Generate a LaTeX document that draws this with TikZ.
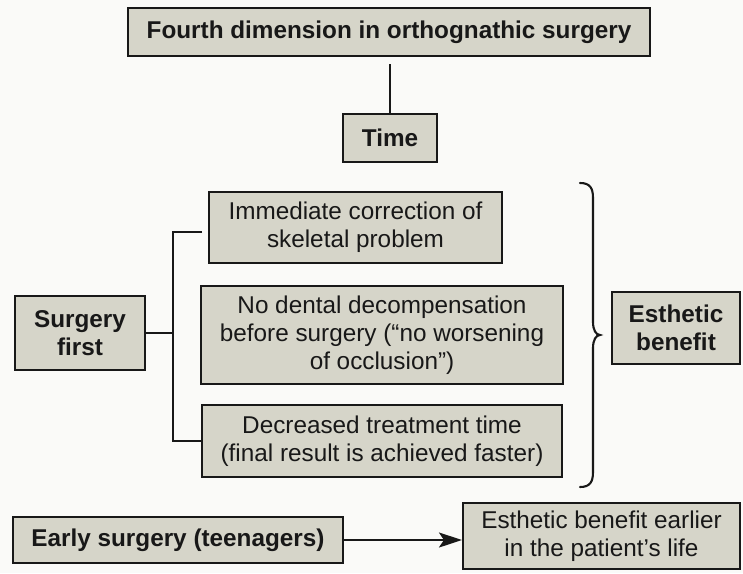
\documentclass[tikz,border=0pt]{standalone}
\usepackage{fontspec}
\setmainfont{Liberation Sans}
\usetikzlibrary{arrows.meta}
\definecolor{boxfill}{RGB}{214,213,201}
\definecolor{ink}{RGB}{24,24,24}
\definecolor{paper}{RGB}{250,250,248}
\begin{document}
\begin{tikzpicture}[x=1pt,y=-1pt,
  box/.style={draw=ink,fill=boxfill,line width=2.1pt,rectangle,inner sep=0pt,
    align=center,text=ink,font=\fontsize{24.3}{28}\selectfont},
  boldbox/.style={box,font=\fontsize{24.3}{28}\selectfont\bfseries},
  conn/.style={draw=ink,line width=2.1pt}]
\fill[paper] (0,0) rectangle (743,573);
\useasboundingbox (0,0) rectangle (743,573);
\node[boldbox,minimum width=522pt,minimum height=48pt] (top) at (389,32) {Fourth dimension in orthognathic surgery};
\node[boldbox,minimum width=94pt,minimum height=48pt] (time) at (390,138) {Time};
\node[boldbox,minimum width=130pt,minimum height=74pt] (sf) at (80,333) {Surgery\\first};
\node[box,minimum width=293pt,minimum height=71pt] (b1) at (355.5,227.5) {Immediate correction of\\skeletal problem};
\node[box,minimum width=362pt,minimum height=98pt] (b2) at (382,335) {No dental decompensation\\before surgery (“no worsening\\of occlusion”)};
\node[box,minimum width=360pt,minimum height=72pt] (b3) at (382,441) {Decreased treatment time\\(final result is achieved faster)};
\node[boldbox,minimum width=128pt,minimum height=72pt] (eb) at (676,328) {Esthetic\\benefit};
\node[boldbox,minimum width=330pt,minimum height=46pt] (early) at (178,540) {Early surgery (teenagers)};
\node[box,minimum width=277pt,minimum height=66pt] (later) at (601.5,536) {Esthetic benefit earlier\\in the patient’s life};
% connectors
\draw[conn,shorten <=7pt] (top.south -| time.north) -- (time.north);
\coordinate (spine) at (173,333);
\coordinate (b1end) at (202,232);
\draw[conn] (sf.east) -- (spine);
\draw[conn] (b1end) -- (b1end -| spine) -- (spine |- b3.west) -- (b3.west);
\draw[conn,-{Stealth[length=23pt,width=15pt,inset=5pt]}] (early.east) -- (early.east -| later.west);
% brace
\coordinate (bt) at (580,183);
\coordinate (bm) at (600,335);
\coordinate (bb) at (580,487);
\draw[conn,line cap=round]
  (bt) .. controls (590,183) and (593,188) .. (593,198)
  -- (593,322) .. controls (593,330) and (596,335) .. (bm)
  .. controls (596,335) and (593,340) .. (593,348)
  -- (593,472) .. controls (593,482) and (590,487) .. (bb);
\end{tikzpicture}
\end{document}
